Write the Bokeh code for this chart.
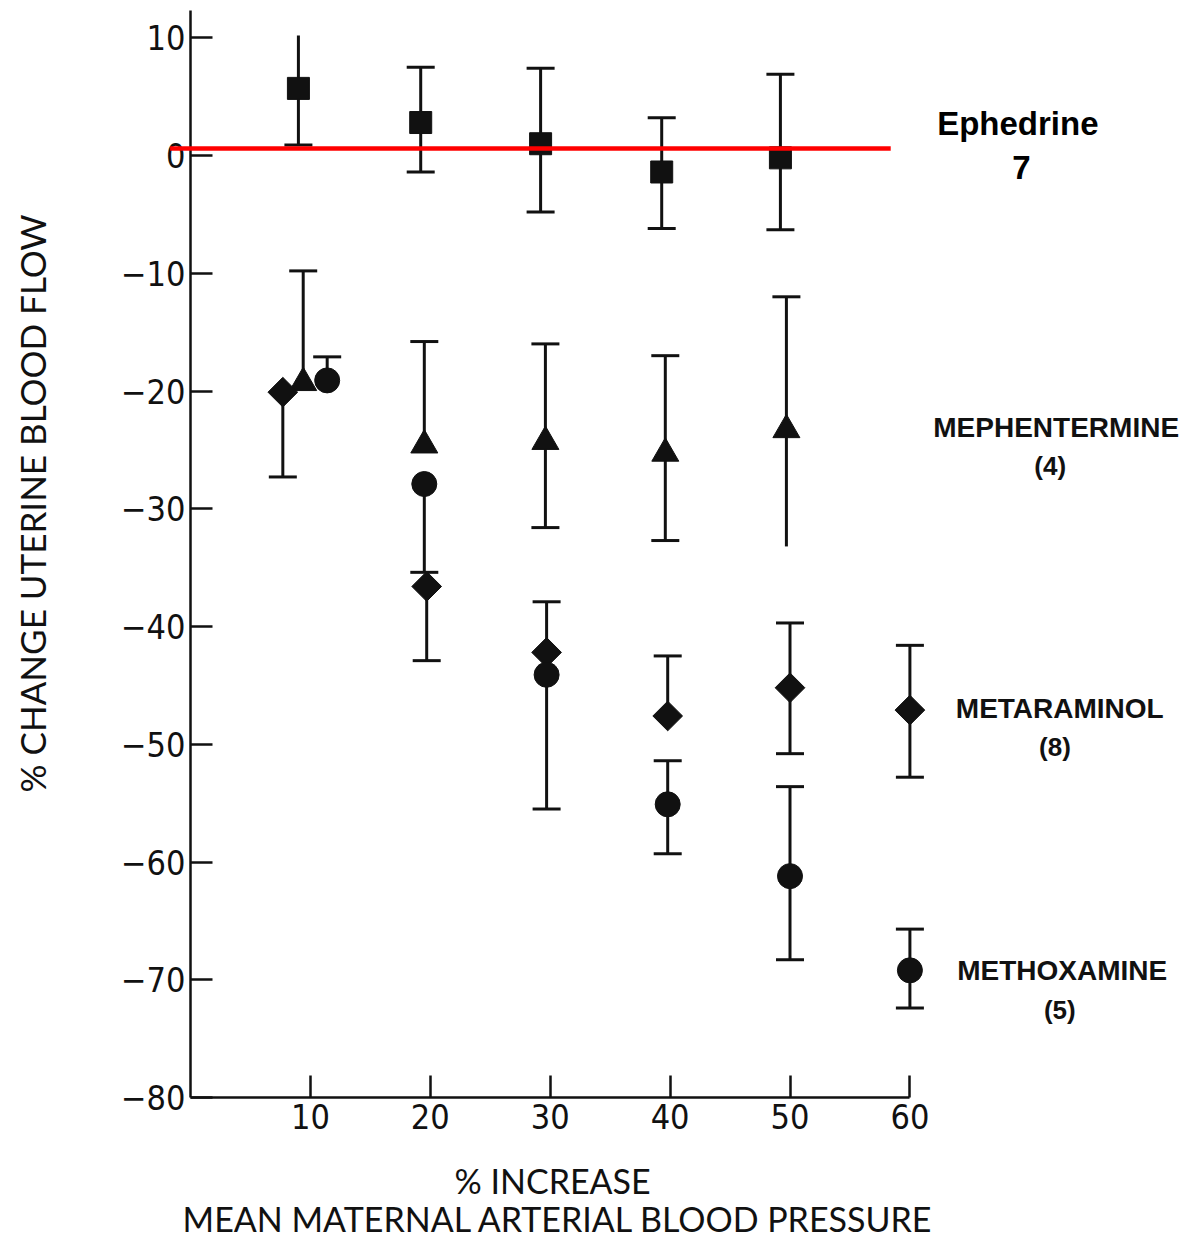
import numpy as np
from bokeh.plotting import figure
from bokeh.models import Range1d, LinearAxis, FixedTicker, Label
from bokeh.core.properties import value
from bokeh.embed import file_html
from bokeh.resources import INLINE

# ---- data: % change in uterine blood flow vs % rise in mean maternal arterial pressure
# Ephedrine (squares)
eph_x = [9.0, 19.2, 29.2, 39.3, 49.2]
eph_mean = [5.7, 2.8, 1.0, -1.4, -0.2]
eph_hi = [10.2, 7.5, 7.4, 3.2, 6.9]
eph_lo = [0.9, -1.4, -4.8, -6.2, -6.3]
eph_hi_cap = [False, True, True, True, True]

# Mephentermine (triangles)
mep_x = [9.4, 19.5, 29.6, 39.6, 49.7]
mep_mean = [-19.3, -24.6, -24.3, -25.3, -23.3]
mep_hi = [-9.8, -15.8, -16.0, -17.0, -12.0]
mep_lo = [None, None, -31.6, -32.7, -33.2]
mep_lo_cap = [False, False, True, True, False]

# Metaraminol (diamonds)
met_x = [7.7, 19.7, 29.7, 39.8, 50.0]
met_mean = [-20.1, -36.6, -42.2, -47.6, -45.2]
met_hi = [None, None, -37.9, -42.5, -39.7]
met_lo = [-27.3, -42.9, None, None, -50.8]

# Methoxamine (circles)
mtx_x = [11.4, 19.5, 29.7, 39.8, 50.0]
mtx_mean = [-19.1, -27.9, -44.1, -55.1, -61.2]
mtx_hi = [-17.1, None, None, -51.4, -53.6]
mtx_lo = [None, -35.4, -55.5, -59.3, -68.3]

# key symbols drawn beside the labels
key_x = [60.0]
met_key = ([-47.1], [-41.6], [-52.8])
mtx_key = ([-69.2], [-65.7], [-72.4])

# reference line
ref_y = 0.6
ref_x = (-1.7, 58.4)

y_ticks = [10, 0, -10, -20, -30, -40, -50, -60, -70, -80]
y_tick_labels = ["10", "0", "\u221210", "\u221220", "\u221230", "\u221240",
                 "\u221250", "\u221260", "\u221270", "\u221280"]
x_ticks = [10, 20, 30, 40, 50, 60]

names = ["Ephedrine", "MEPHENTERMINE", "METARAMINOL", "METHOXAMINE"]
counts = ["7", "(4)", "(8)", "(5)"]

INK = "#111111"
TICK_FONT = "'DejaVu Sans Condensed', 'Liberation Sans', sans-serif"
TITLE_FONT = "Lato, 'Open Sans', sans-serif"
NAME_FONT = "'Liberation Sans', Arial, sans-serif"

# canvas = plotting frame; axes sit at fixed data locations inside it
W, H = 1186, 1239
PX_X, X0PX = 11.99, 190.0       # pixels per x unit, pixel column of x = 0
PX_Y, Y0PX = 11.775, 155.0      # pixels per y unit, pixel row of y = 0
x_start = -X0PX / PX_X
x_end = x_start + W / PX_X
y_end = Y0PX / PX_Y
y_start = y_end - H / PX_Y

p = figure(width=W, height=H, output_backend="svg", toolbar_location=None,
           x_range=Range1d(x_start, x_end), y_range=Range1d(y_start, y_end),
           x_axis_location=None, y_axis_location=None,
           min_border_left=0, min_border_right=0, min_border_top=0,
           min_border_bottom=0)
p.grid.visible = False
p.outline_line_color = None
p.background_fill_color = "white"
p.border_fill_color = "white"

yaxis = LinearAxis(ticker=FixedTicker(ticks=y_ticks), fixed_location=0,
                   bounds=(-80, 12.3))
yaxis.major_label_overrides = {t: s for t, s in zip(y_ticks, y_tick_labels)}
xaxis = LinearAxis(ticker=FixedTicker(ticks=x_ticks), fixed_location=-80,
                   bounds=(0, 60))
for ax in (xaxis, yaxis):
    ax.major_tick_in = 22
    ax.major_tick_out = 0
    ax.minor_tick_line_color = None
    ax.axis_line_width = 2.5
    ax.axis_line_color = INK
    ax.major_tick_line_width = 2.5
    ax.major_tick_line_color = INK
    ax.major_label_text_font = TICK_FONT
    ax.major_label_text_font_size = "34px"
    ax.major_label_text_color = INK
yaxis.major_label_standoff = 5
xaxis.major_label_standoff = 6
p.add_layout(yaxis, "left")
p.add_layout(xaxis, "below")

# red reference line, drawn over the axis and its "0" label
p.segment(x0=[ref_x[0]], y0=[ref_y], x1=[ref_x[1]], y1=[ref_y],
          line_color="#ff0000", line_width=4.5, level="overlay")


def draw_series(xs, mean, hi, lo, marker, size, angle=0.0, hi_cap=None, lo_cap=None):
    top = [h if h is not None else m for h, m in zip(hi, mean)]
    bot = [l if l is not None else m for l, m in zip(lo, mean)]
    p.segment(x0=xs, y0=bot, x1=xs, y1=top, line_color=INK, line_width=3)
    hc = hi_cap if hi_cap is not None else [True] * len(xs)
    lc = lo_cap if lo_cap is not None else [True] * len(xs)
    cx, cy = [], []
    for x, h, c in zip(xs, hi, hc):
        if h is not None and c:
            cx.append(x); cy.append(h)
    for x, l, c in zip(xs, lo, lc):
        if l is not None and c:
            cx.append(x); cy.append(l)
    if cx:
        p.scatter(cx, cy, marker="dash", size=28, line_width=3, line_color=INK)
    p.scatter(xs, mean, marker=marker, size=size, angle=angle,
              fill_color=INK, line_color=INK, line_width=1)


draw_series(eph_x, eph_mean, eph_hi, eph_lo, "square", 22, hi_cap=eph_hi_cap)
draw_series(mep_x, mep_mean, mep_hi, mep_lo, "triangle", 27, lo_cap=mep_lo_cap)
draw_series(met_x, met_mean, met_hi, met_lo, "square", 21, angle=np.pi / 4)
draw_series(mtx_x, mtx_mean, mtx_hi, mtx_lo, "circle", 25)
draw_series(key_x, met_key[0], met_key[1], met_key[2], "square", 21, angle=np.pi / 4)
draw_series(key_x, mtx_key[0], mtx_key[1], mtx_key[2], "circle", 25)

# series labels at the right
name_x = [69.0, 72.2, 72.5, 72.7]
name_y = [2.7, -23.1, -47.0, -69.2]
count_x = [69.3, 71.7, 72.1, 72.5]
count_y = [-1.0, -26.4, -50.2, -72.6]
p.text(x=name_x[:1], y=name_y[:1], text=names[:1], text_font=value(NAME_FONT),
       text_font_style="bold", text_font_size="33px", text_align="center",
       text_baseline="middle", text_color="black")
p.text(x=count_x[:1], y=count_y[:1], text=counts[:1], text_font=value(NAME_FONT),
       text_font_style="bold", text_font_size="33px", text_align="center",
       text_baseline="middle", text_color="black")
p.text(x=name_x[1:], y=name_y[1:], text=names[1:], text_font=value(NAME_FONT),
       text_font_style="bold", text_font_size="28px", text_align="center",
       text_baseline="middle", text_color=INK)
p.text(x=count_x[1:], y=count_y[1:], text=counts[1:], text_font=value(NAME_FONT),
       text_font_style="bold", text_font_size="26px", text_align="center",
       text_baseline="middle", text_color=INK)

# axis titles
p.add_layout(Label(x=-13.2, y=-29.55, text="% CHANGE UTERINE BLOOD FLOW", angle=np.pi / 2,
                   text_align="center", text_baseline="middle", text_font=TITLE_FONT,
                   text_font_size="35px", text_color=INK))
p.add_layout(Label(x=30.2, y=-87.05, text="% INCREASE",
                   text_align="center", text_baseline="middle", text_font=TITLE_FONT,
                   text_font_size="34px", text_color=INK))
p.add_layout(Label(x=30.7, y=-90.3, text="MEAN MATERNAL ARTERIAL BLOOD PRESSURE",
                   text_align="center", text_baseline="middle", text_font=TITLE_FONT,
                   text_font_size="34px", text_color=INK))

open("out.html", "w").write(file_html(p, INLINE))
